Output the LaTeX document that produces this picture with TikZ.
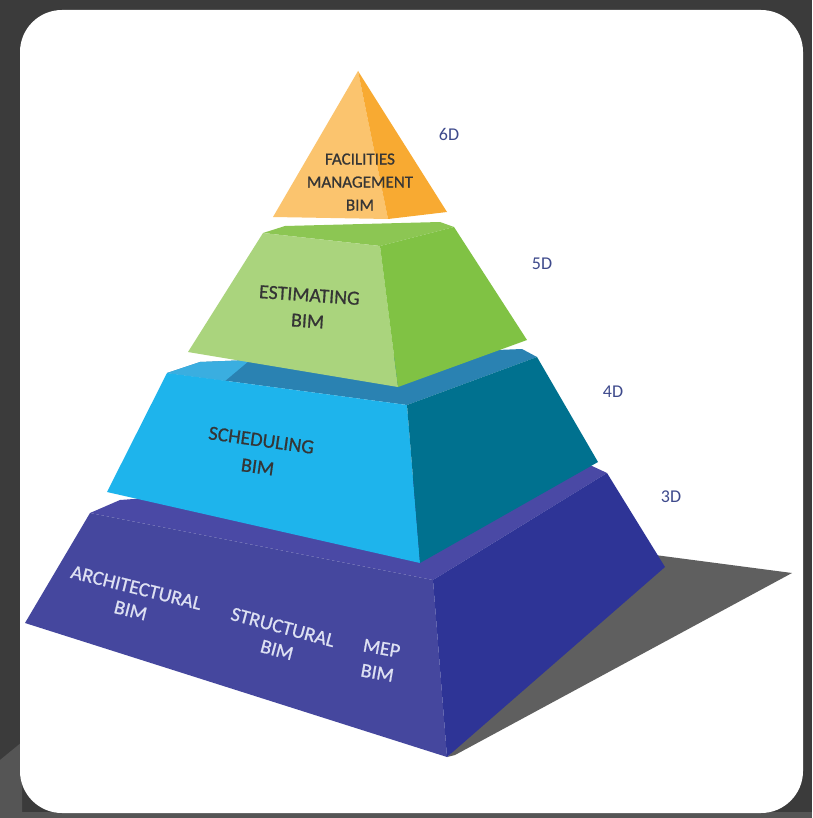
\documentclass[tikz,border=0pt]{standalone}
\usepackage{fontspec}
\setmainfont{Carlito}
\newfontfamily\lblfont{Carlito}[FakeBold=0.7]
\definecolor{bgdark}{HTML}{3B3B3B}
\definecolor{bgmid}{HTML}{555555}
\definecolor{shadowgray}{HTML}{5F5F5F}
\definecolor{orL}{HTML}{FBC46E}
\definecolor{orR}{HTML}{F8AA32}
\definecolor{grT}{HTML}{8CC653}
\definecolor{grF}{HTML}{AAD47D}
\definecolor{grR}{HTML}{80C244}
\definecolor{blT}{HTML}{2A82B2}
\definecolor{blTL}{HTML}{3AAEE0}
\definecolor{blF}{HTML}{1EB4EC}
\definecolor{blR}{HTML}{00718F}
\definecolor{puT}{HTML}{4A49A5}
\definecolor{puF}{HTML}{45479E}
\definecolor{puR}{HTML}{2E3496}
\definecolor{labgray}{HTML}{353535}
\definecolor{dimblue}{HTML}{3E4A8C}
\definecolor{puText}{HTML}{DDE0F2}
\begin{document}
\begin{tikzpicture}[x=1pt,y=-1pt,
  lbl/.style={font=\lblfont\fontsize{20}{26}\selectfont, text=labgray, align=center, inner sep=0pt},
  plbl/.style={font=\lblfont\fontsize{20}{23.5}\selectfont, text=puText, align=center, inner sep=0pt},
  dimlbl/.style={font=\fontsize{18}{20}\selectfont, text=dimblue, inner sep=0pt}]
\useasboundingbox (0,0) rectangle (812,818);
% background
\fill[bgdark] (0,0) rectangle (812,818);
\fill[bgmid] (0,760) -- (22,742) -- (22,818) -- (0,818) -- cycle;
\fill[bgmid] (0,812) rectangle (812,818);
\fill[white, rounded corners=42pt] (20,10) rectangle (803,813);
% shadow
\fill[shadowgray] (655,555) -- (792,573) -- (455,755) -- (447,757) -- cycle;
% 3D layer (purple)
\fill[puT] (90,513) -- (120,500) -- (592,466) -- (607,473) -- (433,580) -- cycle;
\fill[puF] (90,513) -- (433,580) -- (447,757) -- (25,623) -- cycle;
\fill[puR] (433,580) -- (607,473) -- (665,567) -- (447,757) -- cycle;
% 4D layer (blue)
\fill[blT] (167,373) -- (200,362) -- (522,349) -- (537,357) -- (407,405) -- cycle;
\fill[blTL] (167,373) -- (200,362) -- (250,360) -- (225,381) -- cycle;
\fill[blF] (167,373) -- (407,405) -- (420,563) -- (107,492) -- cycle;
\fill[blR] (407,405) -- (537,357) -- (598,462) -- (420,563) -- cycle;
% 5D layer (green)
\fill[grT] (263,233) -- (285,226) -- (440,222) -- (454,227) -- (380,246) -- cycle;
\fill[grF] (263,233) -- (380,246) -- (398,387) -- (188,352) -- cycle;
\fill[grR] (380,246) -- (454,227) -- (527,340) -- (398,387) -- cycle;
% 6D (orange tetrahedron)
\fill[orL] (358,71) -- (388,219) -- (273,217) -- cycle;
\fill[orR] (358,71) -- (447,212) -- (388,219) -- cycle;
% labels in the pyramid
\node[lbl, font=\lblfont\fontsize{17}{23}\selectfont] (fm) at (360,182) {FACILITIES\\MANAGEMENT\\BIM};
\node[lbl, rotate=-4] (est) at (308.5,308) {ESTIMATING\\BIM};
\node[lbl, font=\lblfont\fontsize{20}{27}\selectfont, rotate=-8] (sch) at (259.5,453.5) {SCHEDULING\\BIM};
\node[plbl, rotate=-14] (arc) at (133.5,599) {ARCHITECTURAL\\BIM};
\node[plbl, rotate=-15] (str) at (280,638.5) {STRUCTURAL\\BIM};
\node[plbl, font=\lblfont\fontsize{20}{25}\selectfont, rotate=-10] (mep) at (379.5,660.5) {MEP\\BIM};
% dimension labels
\node[dimlbl] (d6) at (449,134) {6D};
\node[dimlbl] (d5) at (542,264) {5D};
\node[dimlbl] (d4) at (613,392) {4D};
\node[dimlbl] (d3) at (671,497) {3D};
\end{tikzpicture}
\end{document}
